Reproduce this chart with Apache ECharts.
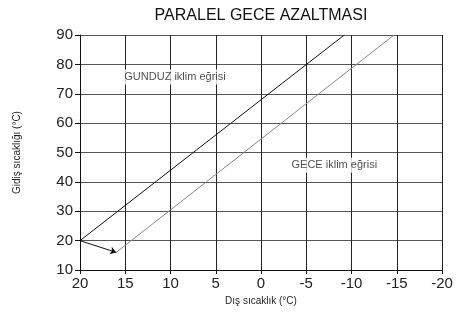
<!DOCTYPE html>
<html><head><meta charset="utf-8">
<script src="https://cdn.jsdelivr.net/npm/echarts@6/dist/echarts.min.js"></script>
<style>html,body{margin:0;padding:0;background:#fff}#c{width:469px;height:324px}</style>
</head><body><div id="c"></div>
<script>
const title = 'PARALEL GECE AZALTMASI';
const xName = 'Dış sıcaklık (°C)';
const yName = 'Gidiş sıcaklığı (°C)';
const gunduzCurve = [[20, 20], [-9.2, 90]];
const geceCurve = [[16, 16], [-14.7, 90]];
const shiftArrow = [[20, 20], [16, 16]];
const gunduzLabel = [[9.5, 75.7]];
const geceLabel = [[-8.1, 45.7]];
const labelTexts = ['GUNDUZ iklim eğrisi', 'GECE iklim eğrisi'];

const chart = echarts.init(document.getElementById('c'), null, {renderer: 'canvas'});
const font = 'Liberation Sans, Arial, sans-serif';
chart.setOption({
  animation: false,
  title: {text: title, left: 256, top: 3, textAlign: 'center',
    textStyle: {fontFamily: 'Liberation Sans Narrow, Liberation Sans, sans-serif', fontSize: 16, fontWeight: 'normal', color: '#111'}},
  grid: {left: 80, right: 27, top: 35, bottom: 54},
  xAxis: {type: 'value', inverse: true, min: -20, max: 20, interval: 5,
    name: xName, nameLocation: 'middle', nameGap: 26,
    nameTextStyle: {fontFamily: font, fontSize: 10, color: '#222'},
    axisLine: {show: true, onZero: false, lineStyle: {color: '#111', width: 1}},
    axisTick: {show: true, length: 4, lineStyle: {color: '#111'}},
    axisLabel: {fontFamily: font, fontSize: 15, color: '#222', margin: 6},
    splitLine: {show: true, lineStyle: {color: '#222', width: 1}}},
  yAxis: {type: 'value', min: 10, max: 90, interval: 10,
    name: yName, nameLocation: 'middle', nameGap: 58, nameRotate: 90,
    nameTextStyle: {fontFamily: font, fontSize: 10, color: '#222'},
    axisLine: {show: true, onZero: false, lineStyle: {color: '#111', width: 1}},
    axisTick: {show: true, length: 5, lineStyle: {color: '#111'}},
    axisLabel: {fontFamily: font, fontSize: 15, color: '#222', margin: 7},
    splitLine: {show: true, lineStyle: {color: '#555', width: 1}}},
  series: [
    {type: 'line', data: gunduzCurve, symbol: 'none', lineStyle: {color: '#111', width: 1}, z: 5},
    {type: 'line', data: geceCurve, symbol: 'none', lineStyle: {color: '#888', width: 1}, z: 5},
    {type: 'lines', coordinateSystem: 'cartesian2d', symbol: ['none', 'arrow'], symbolSize: 6,
      lineStyle: {color: '#111', width: 1, opacity: 1}, data: [{coords: shiftArrow}], z: 6},
    {type: 'scatter', data: gunduzLabel, symbolSize: 0, z: 4,
      label: {show: true, position: 'inside', formatter: labelTexts[0], fontFamily: font, fontSize: 11, color: '#222',
        backgroundColor: '#fff', padding: [2, 2]}},
    {type: 'scatter', data: geceLabel, symbolSize: 0, z: 4,
      label: {show: true, position: 'inside', formatter: labelTexts[1], fontFamily: font, fontSize: 11, color: '#222',
        backgroundColor: '#fff', padding: [2, 2]}}
  ]
});
</script></body></html>
